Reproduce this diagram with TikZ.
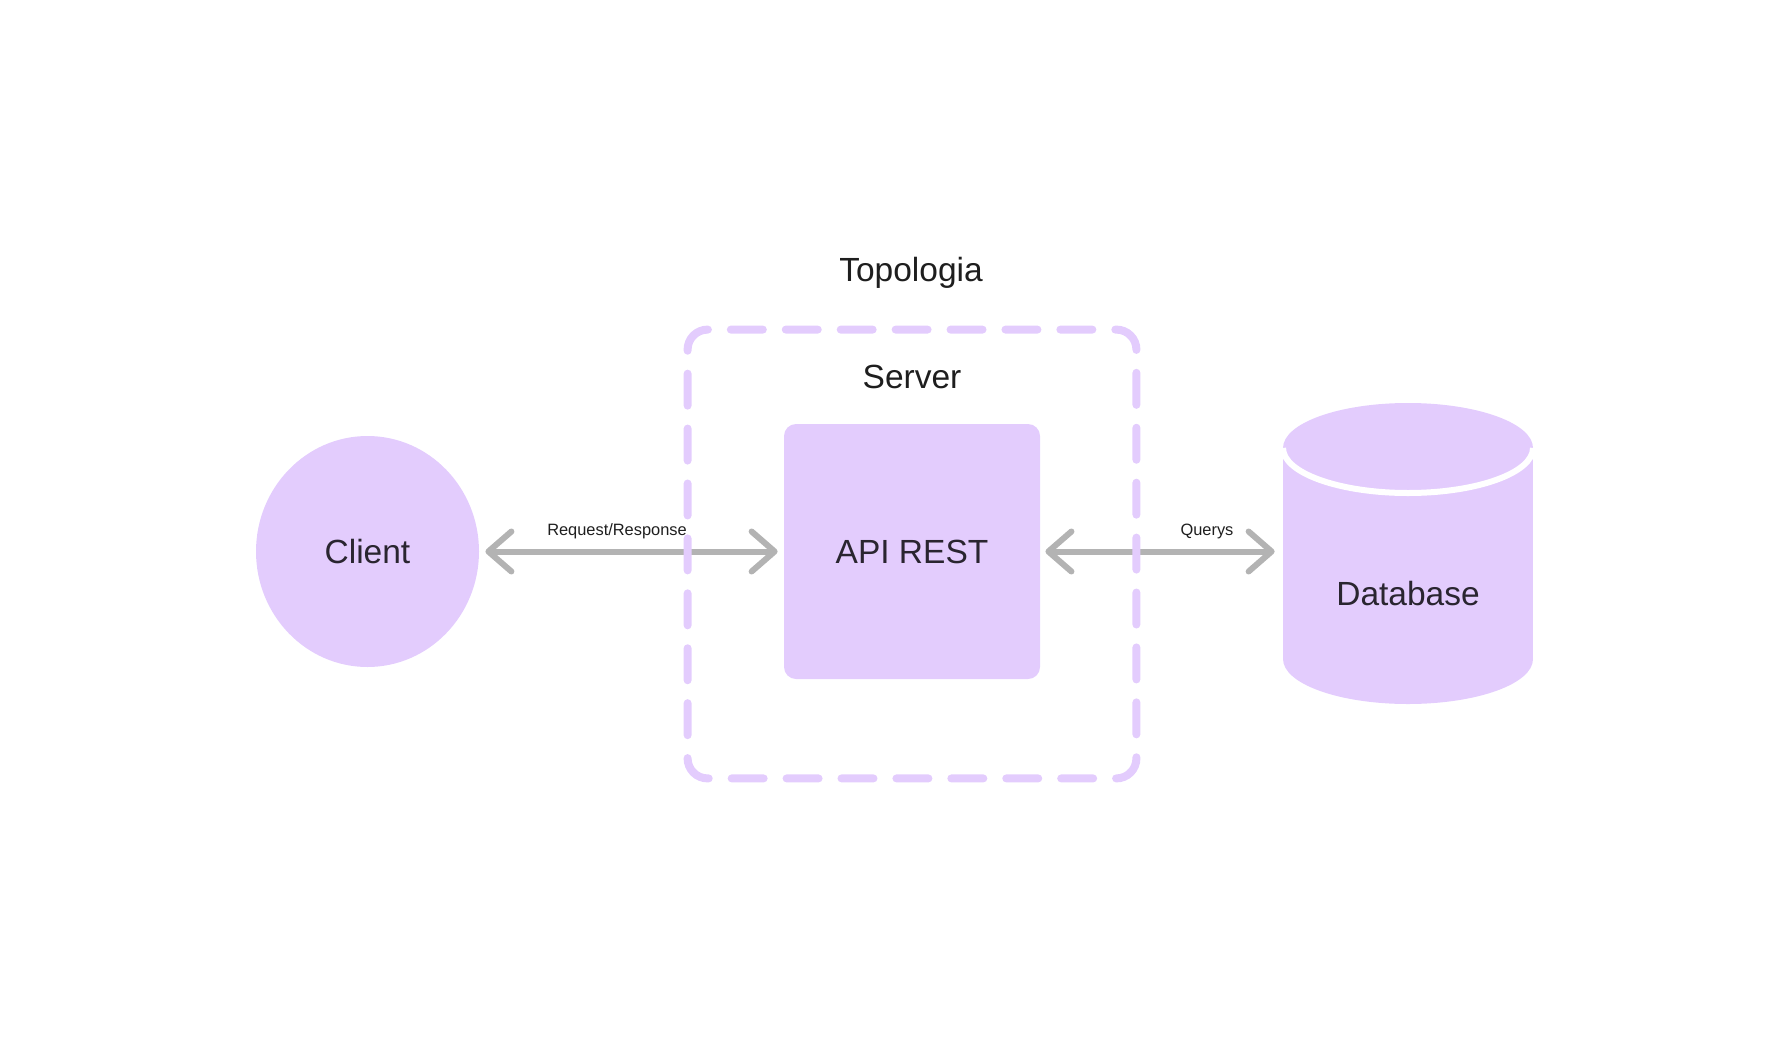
\documentclass[tikz,border=0pt]{standalone}
\usepackage{fontspec}
\setmainfont{Liberation Sans}
\usetikzlibrary{arrows.meta,shapes.geometric}
\definecolor{lav}{HTML}{E3CCFD}
\definecolor{arrgray}{HTML}{B3B3B3}
\definecolor{ink}{HTML}{1E1E1E}
\definecolor{ink2}{HTML}{2A2530}
\begin{document}
\begin{tikzpicture}[x=0.5pt,y=-0.5pt,
  big/.style={font=\fontsize{16.75pt}{20pt}\selectfont, text=ink},
  inbig/.style={font=\fontsize{16.75pt}{20pt}\selectfont, text=ink2},
  small/.style={font=\fontsize{8.2pt}{10pt}\selectfont, text=ink},
  conn/.style={draw=arrgray, line width=3pt,
    {Straight Barb[length=11.5pt,width=20pt,round]}-{Straight Barb[length=11.5pt,width=20pt,round]}},
  dashbox/.style={draw=lav, line width=4pt, line cap=round,
    dash pattern=on 16pt off 11.46pt, dash phase=8pt},
  shapefill/.style={fill=lav, draw=none},
]
\useasboundingbox (0,0) rectangle (1792,1038);

% title
\node[big] (title) at (911,273) {Topologia};

% server container (invisible node, dashed outline drawn later)
\node[minimum width=224pt, minimum height=224pt, inner sep=0pt] (server) at (912,554) {};
\coordinate (c1) at ([shift={(10pt,-10pt)}]server.north west);
\coordinate (c2) at ([shift={(-10pt,-10pt)}]server.north east);
\coordinate (c3) at ([shift={(-10pt,10pt)}]server.south east);
\coordinate (c4) at ([shift={(10pt,10pt)}]server.south west);
\node[big] (serverlabel) at (912,377) {Server};

% API
\node[shapefill, rounded corners=6pt, minimum width=128pt, minimum height=127.5pt, inbig] (api) at (912,551.5) {API REST};

% Client
\node[shapefill, ellipse, minimum width=111.5pt, minimum height=115.5pt, inner sep=0pt, inbig] (client) at (367.5,551.5) {Client};

% Database cylinder
\fill[lav] (1283,448) rectangle (1533,659);
\fill[lav] (1408,659) ellipse [x radius=62.5pt, y radius=22.5pt];
\fill[lav] (1408,448) ellipse [x radius=62.5pt, y radius=22.5pt];
\draw[white, line width=3pt] (1283,448) arc[start angle=180, end angle=360, x radius=62.5pt, y radius=22.5pt];
\node[minimum width=125pt, minimum height=150.5pt, inner sep=0pt] (db) at (1408,553.5) {};
\node[inbig] (dblabel) at (1408,594) {Database};

% connectors
\draw[conn, shorten <=3pt, shorten >=3pt] (client.east) -- (api.west);
\draw[conn, shorten <=2.5pt, shorten >=4pt] (api.east) -- (api.east -| db.west);

% dashed server outline: one path per side, from corner middle to corner middle
\draw[dashbox] ([shift={(135:10pt)}]c1) arc[start angle=135, end angle=90, radius=10pt]
  -- ([shift={(90:10pt)}]c2) arc[start angle=90, end angle=45, radius=10pt];
\draw[dashbox] ([shift={(45:10pt)}]c2) arc[start angle=45, end angle=0, radius=10pt]
  -- ([shift={(0:10pt)}]c3) arc[start angle=0, end angle=-45, radius=10pt];
\draw[dashbox] ([shift={(-45:10pt)}]c3) arc[start angle=-45, end angle=-90, radius=10pt]
  -- ([shift={(-90:10pt)}]c4) arc[start angle=-90, end angle=-135, radius=10pt];
\draw[dashbox] ([shift={(-135:10pt)}]c4) arc[start angle=-135, end angle=-180, radius=10pt]
  -- ([shift={(180:10pt)}]c1) arc[start angle=180, end angle=135, radius=10pt];

% labels
\node[small] (reqlabel) at (617,531.5) {Request/Response};
\node[small] (qlabel) at (1207,531) {Querys};
\end{tikzpicture}
\end{document}
